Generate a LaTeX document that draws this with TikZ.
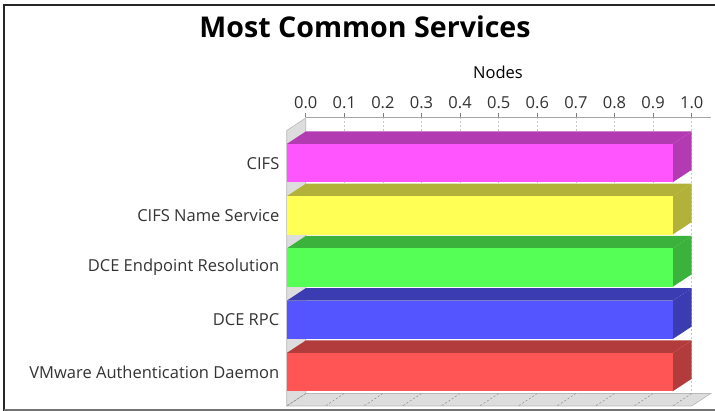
\documentclass[tikz,border=0pt]{standalone}
\usepackage{fontspec}
\setmainfont{Open Sans}
\definecolor{magF}{HTML}{FF55FF}\definecolor{magD}{HTML}{B23BB2}
\definecolor{yelF}{HTML}{FFFF55}\definecolor{yelD}{HTML}{B2B23B}
\definecolor{grnF}{HTML}{55FF55}\definecolor{grnD}{HTML}{3BB23B}
\definecolor{bluF}{HTML}{5555FF}\definecolor{bluD}{HTML}{3B3BB2}
\definecolor{redF}{HTML}{FF5555}\definecolor{redD}{HTML}{B23B3B}
\definecolor{wallC}{HTML}{DDDDDD}\definecolor{wallE}{HTML}{B8B8B8}
\definecolor{gridC}{HTML}{C8C8C8}\definecolor{lblC}{HTML}{333333}
\begin{document}
\begin{tikzpicture}[x=1pt,y=-1pt,
  wallface/.style={fill=wallC,draw=wallE,line width=0.6pt},
  gridline/.style={draw=gridC,dashed,dash pattern=on 2pt off 2pt,line width=0.5pt},
  catlabel/.style={anchor=east,font=\fontsize{16.5}{19}\selectfont,text=lblC,inner sep=0pt},
  ticklabel/.style={anchor=center,font=\fontsize{16.5}{19}\selectfont,text=lblC,inner sep=0pt}]
\useasboundingbox (0,0) rectangle (715,411);
% frame
\draw[line width=2pt,draw=black!85] (4.3,411) -- (4.3,5) -- (715,5);
\draw[line width=1.5pt,draw=black!55] (4.3,410) -- (715,410);
% title
\node[font=\fontsize{28.6}{33}\selectfont\bfseries,inner sep=0pt] (title) at (365,27) {Most Common Services};
\node[font=\fontsize{16.5}{19}\selectfont,inner sep=0pt] (axistitle) at (498,72) {Nodes};
% wall and floor
\draw[wallface] (286.7,406) -- (691.7,406) -- (710.7,393.5) -- (305.7,393.5) -- cycle;
\draw[wallface] (286.7,130.5) -- (305.7,118) -- (305.7,393.5) -- (286.7,406) -- cycle;
% grid, ticks, labels
\foreach \k/\t in {0/0.0,1/0.1,2/0.2,3/0.3,4/0.4,5/0.5,6/0.6,7/0.7,8/0.8,9/0.9,10/1.0}{
  \pgfmathsetmacro{\xx}{305.7+38.6*\k}
  \pgfmathsetmacro{\xf}{\xx-19}
  \draw[gridline] (\xx,117.3) -- (\xx,393.5);
  \draw[gridline,draw=gridC!70!black] (\xx,393.5) -- (\xf,406);
  \draw[draw=gray,line width=0.6pt] (\xx,113.5) -- (\xx,117.3);
  \node[ticklabel] (tick\k) at (\xx,102.7) {\t};
}
\draw[draw=gray!70,line width=0.6pt] (305.7,117.3) -- (710.7,117.3);
% bars
\foreach \i/\cf/\cd/\lab in {0/magF/magD/CIFS,1/yelF/yelD/CIFS Name Service,2/grnF/grnD/DCE Endpoint Resolution,3/bluF/bluD/DCE RPC,4/redF/redD/VMware Authentication Daemon}{
  \pgfmathsetmacro{\yt}{144+52.25*\i}
  \pgfmathsetmacro{\yb}{\yt+38.3}
  \pgfmathsetmacro{\ytb}{\yt-12.5}
  \pgfmathsetmacro{\ybb}{\yb-12.5}
  \pgfmathsetmacro{\ym}{(\yt+\yb)/2}
  \fill[\cd] (286.7,\yt) -- (672.7,\yt) -- (691.7,\ytb) -- (305.7,\ytb) -- cycle;
  \fill[\cd] (672.7,\yt) -- (691.7,\ytb) -- (691.7,\ybb) -- (672.7,\yb) -- cycle;
  \fill[\cf] (286.7,\yt) rectangle (672.7,\yb);
  \node[catlabel] (cat\i) at (279.5,\ym) {\lab};
}
\end{tikzpicture}
\end{document}
